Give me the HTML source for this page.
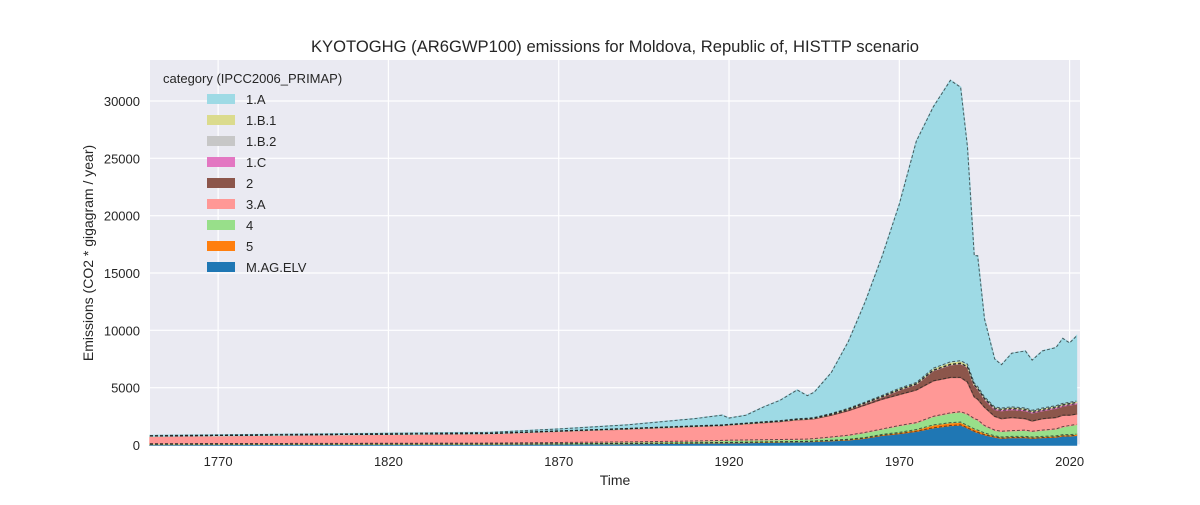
<!DOCTYPE html>
<html><head><meta charset="utf-8"><style>
body{margin:0;background:#fff;font-family:"Liberation Sans",sans-serif}
</style></head><body>
<svg id="chart" width="1200" height="500" xmlns="http://www.w3.org/2000/svg" font-family="Liberation Sans, sans-serif">
<rect x="150" y="60" width="930" height="385" fill="#eaeaf2"/>
<g id="grid"></g><g id="areas"></g><g id="lines"></g><g id="ticks"></g>
<text x="615" y="52" text-anchor="middle" font-size="16.6" fill="#262626">KYOTOGHG (AR6GWP100) emissions for Moldova, Republic of, HISTTP scenario</text>
<text x="615" y="485" text-anchor="middle" font-size="14" fill="#262626">Time</text>
<text transform="translate(93,253) rotate(-90)" text-anchor="middle" font-size="14" fill="#262626">Emissions (CO2 * gigagram / year)</text>
<g id="legend"></g>
</svg>
<script>
const years=[1750,1800,1850,1870,1890,1910,1918,1920,1925,1930,1935,1940,1943,1945,1950,1955,1960,1965,1970,1975,1980,1985,1988,1990,1992,1993,1995,1998,2000,2003,2007,2009,2012,2016,2018,2020,2022];
const seriesNames=["M.AG.ELV","5","4","3.A","2","1.C","1.B.2","1.B.1","1.A"];
const magElv=[60,70,80,100,120,170,190,200,220,240,260,280,300,320,380,450,600,850,1000,1200,1500,1700,1750,1500,1200,1100,900,700,600,650,650,600,650,700,800,800,850];
const cat5=[10,10,10,10,20,30,30,30,30,30,30,30,30,30,40,50,60,80,100,150,250,250,250,200,200,200,150,100,100,100,100,100,100,100,100,100,100];
const cat4=[50,60,80,110,130,150,180,190,190,190,190,190,190,210,280,350,440,470,600,600,750,850,900,1000,900,900,650,500,500,500,550,500,550,600,700,800,850];
const cat3A=[660,760,830,980,1130,1270,1300,1330,1410,1490,1570,1700,1730,1740,1900,2150,2400,2600,2700,2850,3100,3100,3000,2800,1900,1800,1600,1200,1100,1150,1000,900,1000,1000,1000,900,900];
const cat2=[0,0,0,10,20,20,20,20,20,30,30,40,40,50,80,100,150,200,400,500,900,1100,1200,1300,1000,900,700,600,700,700,700,700,700,800,800,900,900];
const cat1C=[0,0,0,0,0,0,0,0,0,0,0,0,0,0,0,10,10,10,10,10,10,10,10,10,20,20,50,100,100,100,100,100,100,100,100,100,100];
const cat1B2=[0,0,10,10,10,10,10,10,10,10,10,10,10,10,20,20,30,40,40,40,40,40,40,40,40,40,30,30,30,30,30,30,30,30,30,30,30];
const cat1B1=[10,10,10,20,20,30,30,30,40,40,40,40,40,40,50,70,60,80,100,100,150,200,200,200,140,140,120,90,90,100,100,100,100,100,100,100,100];
const cat1A=[40,50,80,160,300,620,840,540,680,1270,1770,2510,1960,2200,3550,5800,8750,12170,16050,21050,22800,24550,23850,18950,11100,11400,6800,4180,3780,4670,4970,4370,4970,5070,5670,5170,5670];
const yTicks=[0,5000,10000,15000,20000,25000,30000];
const xTicks=[1770,1820,1870,1920,1970,2020];
const colors=["#1f77b4","#ff7f0e","#98df8a","#ff9896","#8c564b","#e377c2","#c7c7c7","#dbdb8d","#9edae5"];
const series=[magElv,cat5,cat4,cat3A,cat2,cat1C,cat1B2,cat1B1,cat1A];
const NS="http://www.w3.org/2000/svg";
const X=y=>150+(y-1750)*3.406;
const Y=v=>445-v*(344/30000);
function mk(t,a,p){const e=document.createElementNS(NS,t);for(const k in a)e.setAttribute(k,a[k]);p.appendChild(e);return e;}
const grid=document.getElementById('grid'),ticks=document.getElementById('ticks');
yTicks.forEach(v=>{const l=mk('line',{x1:150,x2:1080,y1:Y(v),y2:Y(v),stroke:'#fff','stroke-width':1.2},grid);


const t=mk('text',{x:140,y:Y(v)+5,'text-anchor':'end','font-size':13,fill:'#262626'},ticks);t.textContent=v;

});
xTicks.forEach(v=>{const l=mk('line',{x1:X(v),x2:X(v),y1:60,y2:445,stroke:'#fff','stroke-width':1.2},grid);


const t=mk('text',{x:X(v),y:466,'text-anchor':'middle','font-size':13,fill:'#262626'},ticks);t.textContent=v;

});
const areas=document.getElementById('areas'),lines=document.getElementById('lines');
let base=years.map(()=>0);
series.forEach((s,i)=>{const top=base.map((b,j)=>b+s[j]);
let d='M'+years.map((y,j)=>X(y)+','+Y(top[j])).join('L');
d+='L'+years.map((y,j)=>[y,j]).reverse().map(([y,j])=>X(y)+','+Y(base[j])).join('L')+'Z';
const p=mk('path',{d:d,fill:colors[i],stroke:colors[i],'stroke-width':1.5},areas);


const l=mk('path',{d:'M'+years.map((y,j)=>X(y)+','+Y(top[j])).join('L'),fill:'none',stroke:'#222','stroke-width':1,'stroke-dasharray':'3,2','stroke-opacity':0.7},lines);


base=top;});
const lg=document.getElementById('legend');
const tt=mk('text',{x:163,y:83,'font-size':13,fill:'#262626'},lg);tt.textContent='category (IPCC2006_PRIMAP)';


const order=[8,7,6,5,4,3,2,1,0];
order.forEach((si,k)=>{const y=99+k*21;
const r=mk('rect',{x:207,y:y-5,width:28,height:10,fill:colors[si]},lg);


const t=mk('text',{x:246,y:y+5,'font-size':13,fill:'#262626'},lg);t.textContent=seriesNames[si];

});
</script>
</body></html>
